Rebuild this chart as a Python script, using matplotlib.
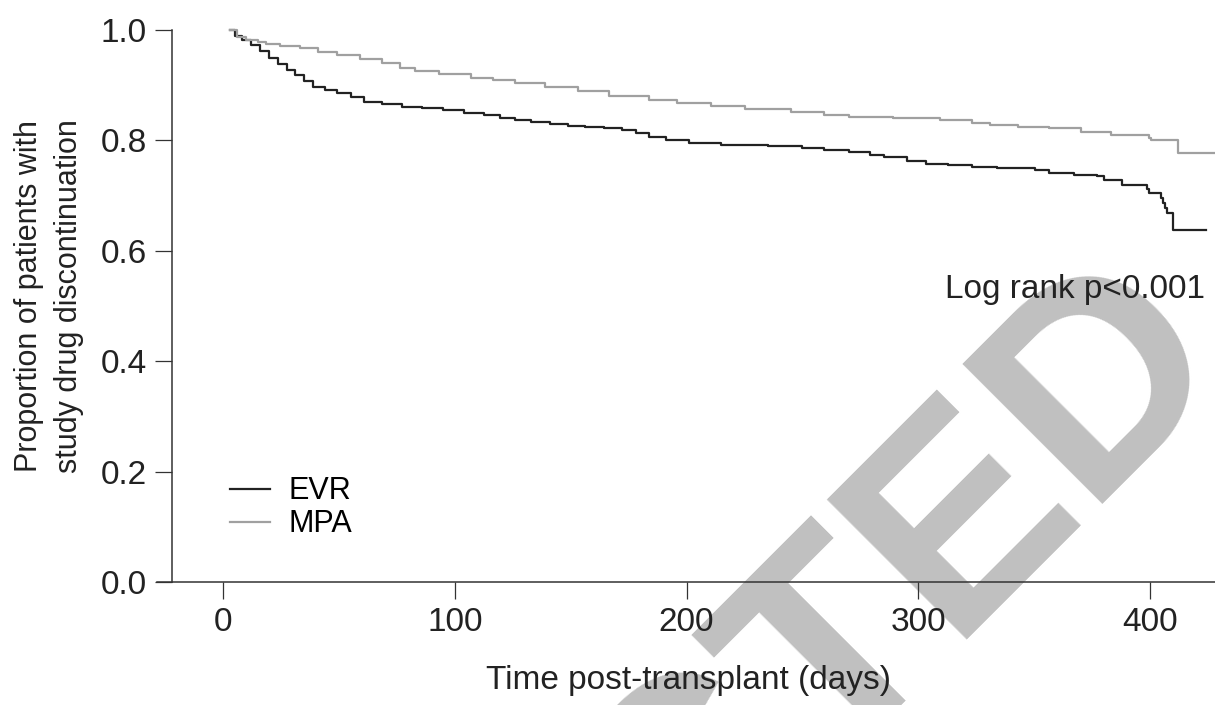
import matplotlib
matplotlib.use("Agg")
import matplotlib.pyplot as plt
from matplotlib.lines import Line2D

plt.rcParams['font.family'] = ['Liberation Sans', 'DejaVu Sans']

# ---------------------------------------------------------
# Daten
# ---------------------------------------------------------
t_evr = [3, 5, 8, 12, 16, 20, 23.5, 27.5, 31, 35, 39, 44, 49, 55, 61, 68.5, 77, 86, 95,
         104, 112.5, 119.5, 126, 133, 141, 149, 156, 164.5, 172, 178, 184, 191, 201,
         215, 235, 250, 259.5, 270, 279, 285, 295, 303.5, 313, 323, 334, 350.5, 356.5,
         367, 377, 380, 388, 398.5, 399.5, 404.5, 405.5, 406.5, 407.5, 410, 424]
s_evr = [1.0, 0.99, 0.982, 0.973, 0.962, 0.950, 0.938, 0.928, 0.918, 0.908, 0.897,
         0.891, 0.886, 0.878, 0.870, 0.866, 0.861, 0.858, 0.855, 0.850, 0.846, 0.841,
         0.837, 0.833, 0.830, 0.827, 0.824, 0.822, 0.819, 0.813, 0.806, 0.800, 0.795,
         0.792, 0.790, 0.787, 0.783, 0.779, 0.774, 0.770, 0.762, 0.758, 0.755, 0.752,
         0.750, 0.746, 0.741, 0.738, 0.735, 0.728, 0.719, 0.712, 0.704, 0.695, 0.686,
         0.678, 0.668, 0.638, 0.638]

t_mpa = [3, 6, 10, 15, 18.5, 24.5, 33, 41, 49, 59, 68.5, 76.5, 83, 93, 107, 116.5, 126,
         139, 153, 166.5, 184, 196, 210.5, 225, 245, 259.5, 270, 289, 309.5, 323, 331,
         343, 356.5, 370, 383, 399.5, 400.5, 412, 431]
s_mpa = [1.0, 0.987, 0.982, 0.978, 0.975, 0.971, 0.967, 0.961, 0.955, 0.948, 0.940,
         0.932, 0.925, 0.920, 0.914, 0.909, 0.904, 0.897, 0.889, 0.881, 0.873, 0.867,
         0.862, 0.857, 0.851, 0.846, 0.842, 0.840, 0.837, 0.832, 0.828, 0.825, 0.822,
         0.816, 0.810, 0.805, 0.801, 0.778, 0.778]

x_ticks = [0, 100, 200, 300, 400]
y_ticks = [0.0, 0.2, 0.4, 0.6, 0.8, 1.0]
y_ticklabels = ['0.0', '0.2', '0.4', '0.6', '0.8', '1.0']

# ---------------------------------------------------------
# Plot
# ---------------------------------------------------------
W, H = 1215, 705
fig = plt.figure(figsize=(W / 100, H / 100), dpi=100)
ax = fig.add_axes([157 / W, 1 - 582 / H, 1 - 157 / W, 563 / H])
ax.patch.set_facecolor('none')

c_axis = '#333333'
c_text = '#222222'

ax.plot(t_evr, s_evr, drawstyle='steps-post', color='#222222', lw=1.6, label='EVR')
ax.plot(t_mpa, s_mpa, drawstyle='steps-post', color='#a0a0a0', lw=1.6, label='MPA')

ax.set_xlim(-28.5, 428)
ax.set_ylim(0, 1.02)

for s in ['top', 'right']:
    ax.spines[s].set_visible(False)
ax.spines['left'].set_position(('data', -22))
ax.spines['left'].set_bounds(0, 1)
for s in ['left', 'bottom']:
    ax.spines[s].set_color(c_axis)
    ax.spines[s].set_linewidth(1.1)

ax.set_xticks(x_ticks)
ax.set_yticks(y_ticks)
ax.set_yticklabels(y_ticklabels)
ax.tick_params(axis='both', direction='out', length=12, width=0.9, color=c_axis,
               labelsize=24, labelcolor=c_text)
ax.tick_params(axis='x', pad=6)
ax.tick_params(axis='y', pad=6)

ax.set_xlabel('Time post-transplant (days)', fontsize=24, color=c_text)
ax.xaxis.set_label_coords((689 - 157) / 1058, -0.148)

fig.text(49 / W, 1 - 296 / H, 'Proportion of patients with\nstudy drug discontinuation',
         rotation=90, ha='center', va='center', fontsize=22, color=c_text,
         linespacing=1.4)

ax.text(423.5, (582 - 298) / 552, 'Log rank p<0.001', ha='right', va='baseline',
        fontsize=24, color=c_text)

handles = [Line2D([], [], color='#222222', lw=1.6), Line2D([], [], color='#a0a0a0', lw=1.6)]
ax.legend(handles, ['EVR', 'MPA'], loc='upper left', bbox_to_anchor=(0.055, 0.215),
          frameon=False, fontsize=22, handlelength=1.3, handletextpad=0.6,
          labelspacing=0.1, borderpad=0)

# Wasserzeichen (unter dem Diagramm)
fig.text(1231 / W, 1 - 356 / H, 'REDACTED', rotation=45, rotation_mode='anchor',
         ha='right', va='baseline', fontsize=207, fontweight='bold', color='#c0c0c0',
         zorder=-1)

fig.savefig('out.png', dpi=100, facecolor='white')
